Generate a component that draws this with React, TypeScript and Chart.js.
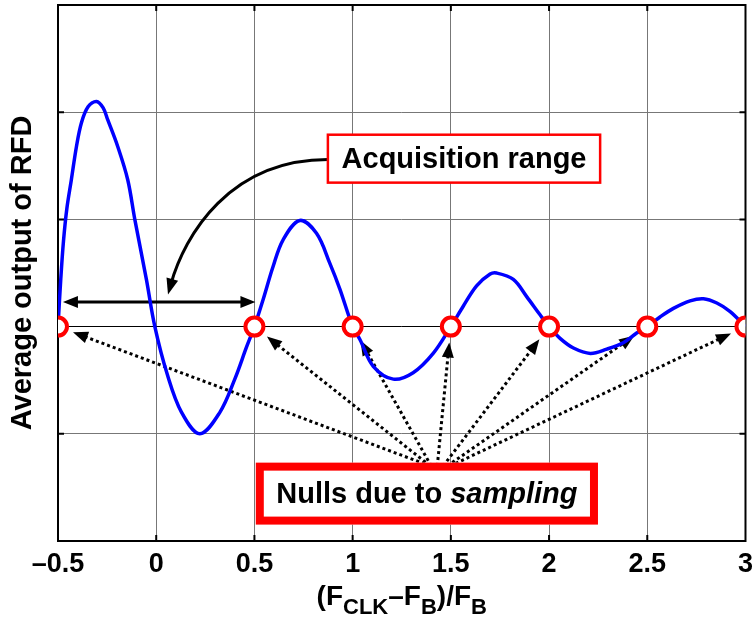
import React, { useEffect, useRef } from 'react';
import { Chart, registerables } from 'chart.js';

Chart.register(...registerables);

// ---- data ----
const curveX = [
  -0.5, -0.486, -0.472, -0.455, -0.432, -0.406, -0.381, -0.347, -0.304, -0.27, -0.247, -0.196, -0.145, -0.109, -0.05, -0.007,
  0.057, 0.129, 0.222, 0.324, 0.4, 0.46, 0.5,
  0.544, 0.595, 0.646, 0.731, 0.816, 0.884, 0.935, 1.0,
  1.037, 1.105, 1.207, 1.308, 1.41, 1.5,
  1.563, 1.631, 1.7, 1.733, 1.818, 1.886, 1.954, 2.0,
  2.056, 2.124, 2.21, 2.294, 2.378, 2.446, 2.5,
  2.565, 2.633, 2.718, 2.786, 2.854, 2.922, 3.0,
];
const curveY = [
  0, 0.44, 0.8, 1.1, 1.37, 1.68, 1.9, 2.05, 2.1, 2.04, 1.93, 1.68, 1.37, 1.0, 0.44, 0,
  -0.45, -0.8, -1.0, -0.8, -0.49, -0.19, 0,
  0.25, 0.56, 0.81, 0.99, 0.87, 0.59, 0.35, 0,
  -0.12, -0.37, -0.49, -0.43, -0.25, 0,
  0.19, 0.38, 0.49, 0.5, 0.44, 0.28, 0.11, 0,
  -0.11, -0.2, -0.25, -0.21, -0.15, -0.06, 0,
  0.09, 0.17, 0.24, 0.26, 0.22, 0.14, 0,
];
const nullX = [-0.5, 0.5, 1, 1.5, 2, 2.5, 3];
const nullY = [0, 0, 0, 0, 0, 0, 0];

const X_MIN = -0.5;
const X_MAX = 3;
const X_STEP = 0.5;
const Y_MIN = -2;
const Y_MAX = 3;
const Y_STEP = 1;

const yTitle = 'Average output of RFD';
const xTitleParts = [
  { t: '(F', sub: false },
  { t: 'CLK', sub: true },
  { t: '\u2013F', sub: false },
  { t: 'B', sub: true },
  { t: ')/F', sub: false },
  { t: 'B', sub: true },
];
const acqLabel = 'Acquisition range';
const nullsLabelPlain = 'Nulls due to ';
const nullsLabelItalic = 'sampling';

// annotation anchors, in data units
const acqBox = { x0: 0.874, x1: 2.26, yTop: 1.79, yBot: 1.343 };
const acqCurve = { p0: [0.874, 1.558], p1: [0.375, 1.558], p2: [0.145, 0.858], p3: [0.06, 0.3] };
const rangeArrow = { x0: -0.475, x1: 0.505, y: 0.23 };
const nullsBox = { x0: 0.507, x1: 2.249, yTop: -1.269, yBot: -1.847 };
const nullArrowStartX = [1.395, 1.395, 1.4, 1.431, 1.461, 1.482, 1.497];
const nullArrowStartY = -1.3;

const FONT = '"Liberation Sans", Arial, Helvetica, sans-serif';

function arrowHead(ctx: CanvasRenderingContext2D, tx: number, ty: number, fx: number, fy: number, len: number, half: number) {
  const a = Math.atan2(ty - fy, tx - fx);
  const c = Math.cos(a);
  const s = Math.sin(a);
  ctx.beginPath();
  ctx.moveTo(tx, ty);
  ctx.lineTo(tx - len * c + half * s, ty - len * s - half * c);
  ctx.lineTo(tx - len * c - half * s, ty - len * s + half * c);
  ctx.closePath();
  ctx.fill();
}

const annotPlugin = {
  id: 'annot',
  beforeDatasetsDraw(chart: any) {
    const ctx: CanvasRenderingContext2D = chart.ctx;
    const xs = chart.scales.x;
    const ys = chart.scales.y;
    const px = (v: number) => xs.getPixelForValue(v);
    const py = (v: number) => ys.getPixelForValue(v);
    const ca = chart.chartArea;
    ctx.save();

    // frame
    ctx.strokeStyle = '#000';
    ctx.lineWidth = 2;
    ctx.strokeRect(ca.left, ca.top, ca.right - ca.left, ca.bottom - ca.top);
    // small inner ticks
    ctx.lineWidth = 2;
    for (let v = X_MIN + X_STEP; v < X_MAX - 1e-9; v += X_STEP) {
      const x = px(v);
      ctx.beginPath();
      ctx.moveTo(x, ca.bottom); ctx.lineTo(x, ca.bottom - 6);
      ctx.moveTo(x, ca.top); ctx.lineTo(x, ca.top + 6);
      ctx.stroke();
    }
    for (let v = Y_MIN + Y_STEP; v < Y_MAX - 1e-9; v += Y_STEP) {
      const y = py(v);
      ctx.beginPath();
      ctx.moveTo(ca.left, y); ctx.lineTo(ca.left + 6, y);
      ctx.moveTo(ca.right, y); ctx.lineTo(ca.right - 6, y);
      ctx.stroke();
    }

    ctx.fillStyle = '#000';
    // dotted arrows to nulls
    nullX.forEach((nx, i) => {
      const sx = px(nullArrowStartX[i]);
      const sy = py(nullArrowStartY);
      const cx = px(nx);
      const cy = py(nullY[i]);
      const d = Math.hypot(cx - sx, cy - sy);
      const ux = (cx - sx) / d;
      const uy = (cy - sy) / d;
      const tx = cx - ux * 16;
      const ty = cy - uy * 16;
      const bx = tx - ux * 13;
      const by = ty - uy * 13;
      ctx.save();
      ctx.setLineDash([3, 3]);
      ctx.lineWidth = 3;
      ctx.beginPath();
      ctx.moveTo(sx, sy);
      ctx.lineTo(bx, by);
      ctx.stroke();
      ctx.restore();
      arrowHead(ctx, tx, ty, sx, sy, 15, 6);
    });

    // double-headed range arrow
    const ax0 = px(rangeArrow.x0);
    const ax1 = px(rangeArrow.x1);
    const ay = py(rangeArrow.y);
    ctx.lineWidth = 3;
    ctx.beginPath();
    ctx.moveTo(ax0 + 10, ay);
    ctx.lineTo(ax1 - 10, ay);
    ctx.stroke();
    arrowHead(ctx, ax0, ay, ax1, ay, 15, 6);
    arrowHead(ctx, ax1, ay, ax0, ay, 15, 6);

    // curved arrow from acquisition label
    const P = (p: number[]) => [px(p[0]), py(p[1])];
    const p0 = P(acqCurve.p0);
    const p1 = P(acqCurve.p1);
    const p2 = P(acqCurve.p2);
    const p3 = P(acqCurve.p3);
    const dx = p3[0] - p2[0];
    const dy = p3[1] - p2[1];
    const dl = Math.hypot(dx, dy);
    const e3 = [p3[0] - (dx / dl) * 10, p3[1] - (dy / dl) * 10];
    ctx.lineWidth = 3;
    ctx.beginPath();
    ctx.moveTo(p0[0], p0[1]);
    ctx.bezierCurveTo(p1[0], p1[1], p2[0], p2[1], e3[0], e3[1]);
    ctx.stroke();
    arrowHead(ctx, p3[0], p3[1], p2[0], p2[1], 16, 6);
    ctx.restore();
  },
  afterDatasetsDraw(chart: any) {
    const ctx: CanvasRenderingContext2D = chart.ctx;
    const xs = chart.scales.x;
    const ys = chart.scales.y;
    const px = (v: number) => xs.getPixelForValue(v);
    const py = (v: number) => ys.getPixelForValue(v);
    ctx.save();

    // Acquisition range box
    {
      const x0 = px(acqBox.x0), x1 = px(acqBox.x1), y0 = py(acqBox.yTop), y1 = py(acqBox.yBot);
      ctx.fillStyle = '#fff';
      ctx.fillRect(x0, y0, x1 - x0, y1 - y0);
      ctx.strokeStyle = '#ff0000';
      ctx.lineWidth = 2.5;
      ctx.strokeRect(x0, y0, x1 - x0, y1 - y0);
      ctx.fillStyle = '#000';
      ctx.font = `bold 29px ${FONT}`;
      ctx.textAlign = 'center';
      ctx.textBaseline = 'middle';
      ctx.fillText(acqLabel, (x0 + x1) / 2, (y0 + y1) / 2 + 1);
    }

    // Nulls box
    {
      const x0 = px(nullsBox.x0), x1 = px(nullsBox.x1), y0 = py(nullsBox.yTop), y1 = py(nullsBox.yBot);
      ctx.fillStyle = '#fff';
      ctx.fillRect(x0, y0, x1 - x0, y1 - y0);
      ctx.strokeStyle = '#ff0000';
      ctx.lineWidth = 8;
      ctx.strokeRect(x0 + 4, y0 + 4, x1 - x0 - 8, y1 - y0 - 8);
      ctx.fillStyle = '#000';
      ctx.textAlign = 'left';
      ctx.textBaseline = 'middle';
      ctx.font = `bold 29px ${FONT}`;
      const w1 = ctx.measureText(nullsLabelPlain).width;
      ctx.font = `italic bold 29px ${FONT}`;
      const w2 = ctx.measureText(nullsLabelItalic).width;
      const sx = (x0 + x1) / 2 - (w1 + w2) / 2;
      const cy = (y0 + y1) / 2 + 1;
      ctx.font = `bold 29px ${FONT}`;
      ctx.fillText(nullsLabelPlain, sx, cy);
      ctx.font = `italic bold 29px ${FONT}`;
      ctx.fillText(nullsLabelItalic, sx + w1, cy);
    }
    ctx.restore();
  },
  afterDraw(chart: any) {
    const ctx: CanvasRenderingContext2D = chart.ctx;
    const ca = chart.chartArea;
    ctx.save();
    ctx.fillStyle = '#000';
    ctx.textBaseline = 'alphabetic';
    ctx.textAlign = 'left';
    const mainFont = `bold 28px ${FONT}`;
    const subFont = `bold 22px ${FONT}`;
    let total = 0;
    xTitleParts.forEach((p) => {
      ctx.font = p.sub ? subFont : mainFont;
      total += ctx.measureText(p.t).width;
    });
    let x = (ca.left + ca.right) / 2 - total / 2;
    const base = ca.bottom + 64;
    xTitleParts.forEach((p) => {
      ctx.font = p.sub ? subFont : mainFont;
      ctx.fillText(p.t, x, p.sub ? base + 9 : base);
      x += ctx.measureText(p.t).width;
    });
    ctx.restore();
  },
};

export default function App() {
  const ref = useRef<HTMLCanvasElement>(null);
  useEffect(() => {
    if (!ref.current) return;
    const chart = new Chart(ref.current, {
      type: 'line',
      data: {
        datasets: [
          {
            data: nullX.map((x, i) => ({ x, y: nullY[i] })),
            showLine: false,
            pointRadius: 9,
            pointHoverRadius: 9,
            pointBorderWidth: 4,
            pointBorderColor: '#ff0000',
            pointBackgroundColor: '#ffffff',
          },
          {
            data: curveX.map((x, i) => ({ x, y: curveY[i] })),
            borderColor: '#0000ff',
            borderWidth: 3.5,
            pointRadius: 0,
            tension: 0.35,
            fill: false,
          },
        ],
      } as any,
      options: {
        responsive: false,
        animation: false,
        events: [],
        layout: { autoPadding: false, padding: { left: 0, top: 5, right: 7, bottom: 0 } },
        plugins: { legend: { display: false }, tooltip: { enabled: false } },
        scales: {
          x: {
            type: 'linear',
            min: X_MIN,
            max: X_MAX,
            ticks: {
              stepSize: X_STEP,
              autoSkip: false,
              maxRotation: 0,
              color: '#000',
              padding: 0,
              font: { family: FONT, size: 27, weight: 'bold' },
              callback: (v: any) => String(Number(v)).replace('-', '\u2013'),
            },
            grid: { color: '#777', lineWidth: 1, drawTicks: true, tickLength: 7, tickColor: 'rgba(0,0,0,0)' },
            border: { display: false },
            afterFit: (s: any) => { s.height = 80; },
          },
          y: {
            type: 'linear',
            min: Y_MIN,
            max: Y_MAX,
            ticks: { stepSize: Y_STEP, display: false },
            grid: {
              color: (c: any) => (c.tick && c.tick.value === 0 ? '#000' : '#777'),
              lineWidth: 1,
              drawTicks: false,
            },
            border: { display: false },
            title: {
              display: true,
              text: yTitle,
              color: '#000',
              font: { family: FONT, size: 29, weight: 'bold' },
              padding: { top: 6, bottom: 0 },
            },
            afterFit: (s: any) => { s.width = 58; },
          },
        },
      } as any,
      plugins: [annotPlugin],
    });
    return () => chart.destroy();
  }, []);
  return (
    <div style={{ position: 'absolute', left: 0, top: 0, width: 753, height: 621, background: '#fff' }}>
      <canvas ref={ref} width={753} height={621} />
    </div>
  );
}
